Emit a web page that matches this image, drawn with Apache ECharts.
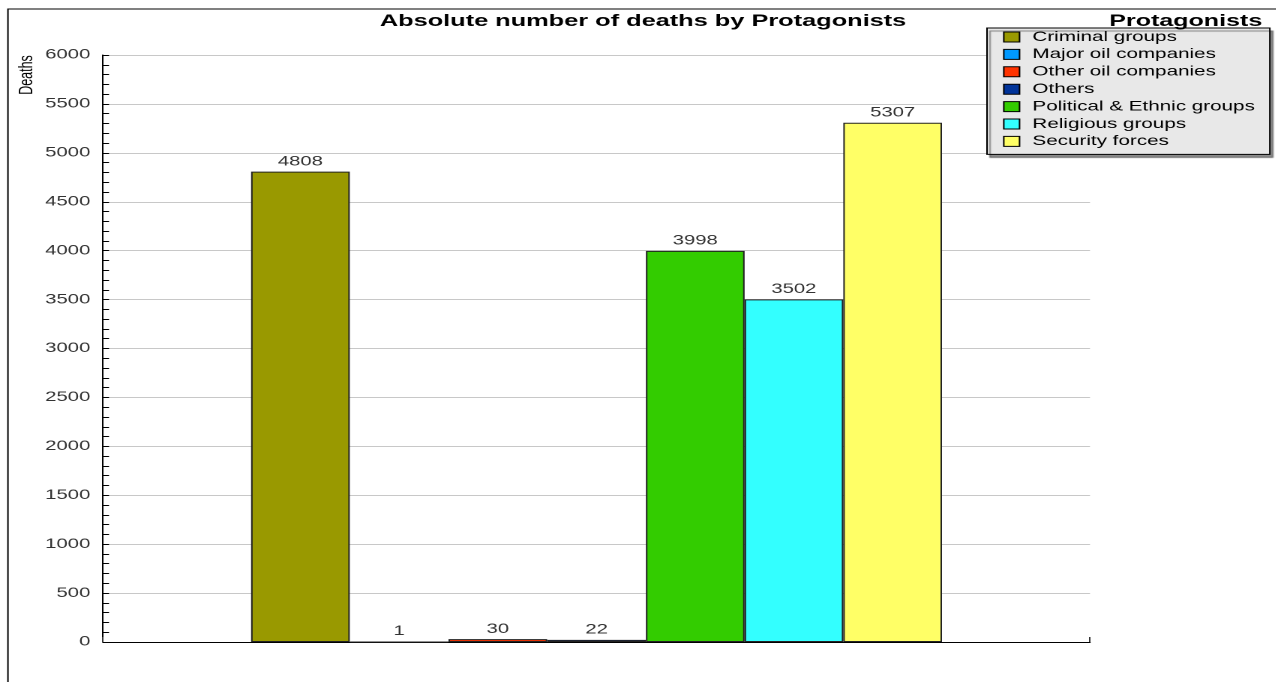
<!DOCTYPE html>
<html>
<head>
<meta charset="utf-8">
<script src="https://cdn.jsdelivr.net/npm/echarts@6/dist/echarts.min.js"></script>
<style>
html,body{margin:0;padding:0;background:#fff;overflow:hidden;width:1276px;height:682px}
#c{width:851px;height:682px;transform:scaleX(1.5);transform-origin:0 0}
</style>
</head>
<body>
<div id="c"></div>
<script>
const protagonists = ['Criminal groups','Major oil companies','Other oil companies','Others','Political & Ethnic groups','Religious groups','Security forces'];
const deaths = [4808, 1, 30, 22, 3998, 3502, 5307];
const colors = ['#999900','#0099ff','#ff3300','#003399','#33cc00','#33ffff','#ffff66'];
const yMin = 0, yMax = 6000, yStep = 500;

const chart = echarts.init(document.getElementById('c'), null, {devicePixelRatio: 2});
const font = 'Liberation Sans, Arial, sans-serif';
chart.setOption({
  animation: false,
  title: [
    {text: 'Absolute number of deaths by Protagonists', left: 423.7, textAlign: 'center', top: 8,
     textStyle: {fontFamily: font, fontSize: 16.9, fontWeight: 'bold', color: '#000'}},
    {text: 'Protagonists', right: 4.5, top: 8,
     textStyle: {fontFamily: font, fontSize: 16.7, fontWeight: 'bold', color: '#000'}}
  ],
  legend: {
    orient: 'vertical', left: 658, top: 28,
    padding: [2, 10, 6, 10.7],
    backgroundColor: '#e8e8e8', borderColor: '#000', borderWidth: 1,
    shadowColor: 'rgba(0,0,0,0.45)', shadowOffsetX: 2, shadowOffsetY: 3, shadowBlur: 1,
    itemWidth: 10.5, itemHeight: 10, itemGap: 3.4,
    icon: 'rect',
    itemStyle: {borderColor: '#000', borderWidth: 1},
    textStyle: {fontFamily: font, fontSize: 13.75, color: '#000', lineHeight: 14, padding: [0,0,0,3.6]},
    data: protagonists, selectedMode: false
  },
  grid: {left: 68.7, right: 124.3, top: 55, bottom: 40},
  xAxis: {
    type: 'category', data: [''],
    axisLine: {lineStyle: {color: '#000', width: 1}},
    axisTick: {show: true, inside: true, length: 5, lineStyle: {color: '#333'}},
    axisLabel: {show: false}
  },
  yAxis: {
    type: 'value', min: yMin, max: yMax, interval: yStep,
    name: 'Deaths', nameLocation: 'end', nameRotate: 90,
    nameTextStyle: {fontFamily: font, fontSize: 12.5, color: '#000', align: 'center', verticalAlign: 'bottom', padding: [0, 0, 44, 0]},
    nameGap: -20,
    axisLine: {show: true, lineStyle: {color: '#000'}},
    axisTick: {show: true, inside: true, length: 4, lineStyle: {color: '#000'}},
    minorTick: {show: true, splitNumber: 5, length: 4, lineStyle: {color: '#000'}},
    splitLine: {lineStyle: {color: '#c8c8c8'}},
    axisLabel: {fontFamily: font, fontSize: 13.5, color: '#333', margin: 8.5, formatter: v => String(v)}
  },
  series: protagonists.map((p, i) => ({
    name: p, type: 'bar', barGap: 0, barCategoryGap: '30%',
    data: [deaths[i]],
    itemStyle: {color: colors[i], borderColor: '#222', borderWidth: 1},
    label: {show: true, position: 'top', distance: 3, fontFamily: font, fontSize: 13.5, color: '#333'}
  })),
  color: colors,
  graphic: [
    {type: 'rect', shape: {x: 5.3, y: 9, width: 1000, height: 800}, style: {fill: 'none', stroke: '#000', lineWidth: 1}, silent: true, z: 100}
  ]
});
</script>
</body>
</html>
